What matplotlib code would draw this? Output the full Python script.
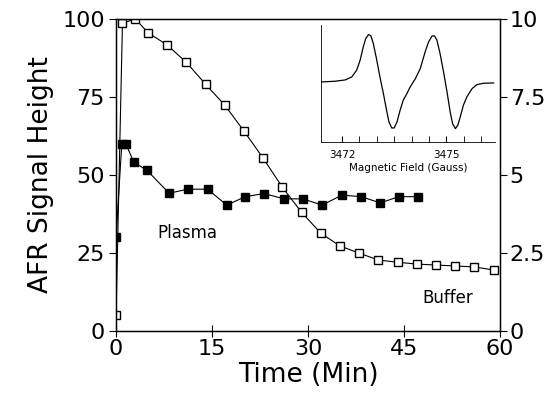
import matplotlib
matplotlib.use("Agg")
import matplotlib.pyplot as plt

# main panel: AFR signal vs time
buffer_t = [0, 1, 3, 5, 8, 11, 14, 17, 20, 23, 26, 29, 32, 35, 38, 41, 44, 47, 50, 53, 56, 59]
buffer_y = [5, 98.5, 100, 95.5, 91.6, 86, 79, 72.3, 64, 55.3, 46, 38, 31.3, 27.2, 24.9,
            22.7, 22, 21.4, 21.1, 20.8, 20.5, 19.5]
plasma_t = [0, 0.9, 1.5, 2.8, 4.8, 8.3, 11.2, 14.3, 17.3, 20.2, 23.1, 26.3, 29.2, 32.2,
            35.3, 38.3, 41.3, 44.2, 47.2]
plasma_y = [30, 60, 60, 54, 51.5, 44.1, 45.4, 45.4, 40.3, 43, 44, 42.3, 42.3, 40.3,
            43.5, 43, 41, 43, 43]

# inset: EPR spectrum (arbitrary units)
field_g = [3471.41, 3471.80, 3472.09, 3472.28, 3472.42, 3472.52, 3472.61, 3472.68, 3472.76,
           3472.83, 3472.90, 3472.99, 3473.09, 3473.19, 3473.28, 3473.35, 3473.43, 3473.50,
           3473.58, 3473.67, 3473.76, 3473.86, 3473.96, 3474.11, 3474.25, 3474.39, 3474.49,
           3474.59, 3474.66, 3474.73, 3474.82, 3474.92, 3475.02, 3475.11, 3475.18, 3475.26,
           3475.33, 3475.40, 3475.49, 3475.59, 3475.74, 3475.88, 3476.07, 3476.36]
epr_sig = [0, 0.7, 2, 5, 11.7, 21.7, 35, 43.3, 47.3,
           46, 38.3, 23.3, 5, -11.7, -28.3, -40, -46, -46,
           -40, -28.3, -18.3, -12, -5, 3.3, 13.3, 30, 40,
           46, 46, 41.7, 28.3, 10, -10, -30, -41.7, -46.7,
           -43.3, -35, -23.3, -15, -6.7, -2.7, -1.3, -1]

left_ticks = [0, 25, 50, 75, 100]
right_ticks = [0, 2.5, 5, 7.5, 10]
right_labels = ["0", "2.5", "5", "7.5", "10"]
x_ticks = [0, 15, 30, 45, 60]

fig = plt.figure(figsize=(5.5, 4.08), dpi=100)
ax = fig.add_axes([0.211, 0.189, 0.698, 0.765])

ax.plot(buffer_t, buffer_y, color="black", lw=0.8, marker="s", ms=6,
        mfc="white", mec="black", mew=1.0)
ax.plot(plasma_t, plasma_y, color="black", lw=0.8, marker="s", ms=6.2,
        mfc="black", mec="black")

ax.set_xlim(0, 60)
ax.set_ylim(0, 100)
ax.set_xticks(x_ticks)
ax.set_yticks(left_ticks)
ax.tick_params(axis="y", direction="out", length=5, labelsize=16, pad=3)
ax.tick_params(axis="x", direction="inout", length=8, labelsize=16, pad=2)
ax.set_xlabel("Time (Min)", fontsize=19, labelpad=2)
ax.set_ylabel("AFR Signal Height", fontsize=19, labelpad=6)
for sp in ax.spines.values():
    sp.set_linewidth(1.0)

ax.text(11.2, 31.5, "Plasma", fontsize=12, ha="center", va="center")
ax.text(51.8, 10.5, "Buffer", fontsize=12, ha="center", va="center")

ax2 = ax.twinx()
ax2.set_ylim(0, 10)
ax2.set_yticks(right_ticks)
ax2.set_yticklabels(right_labels)
ax2.tick_params(axis="y", direction="out", length=5, labelsize=16, pad=2)

# inset spectrum
axi = fig.add_axes([0.584, 0.652, 0.316, 0.287])
axi.plot(field_g, epr_sig, color="black", lw=0.9)
axi.set_xlim(3471.4, 3476.4)
axi.set_ylim(-60, 57)
axi.set_xticks([3472, 3475])
axi.set_xticks([3472.5, 3473, 3473.5, 3474, 3474.5, 3475.5, 3476], minor=True)
axi.set_yticks([])
axi.tick_params(axis="x", which="both", direction="in", length=4, labelsize=7.5, pad=6)
axi.spines["top"].set_visible(False)
axi.spines["right"].set_visible(False)
axi.spines["left"].set_linewidth(0.6)
axi.spines["bottom"].set_linewidth(0.6)
axi.set_xlabel("Magnetic Field (Gauss)", fontsize=7.5, labelpad=2)
axi.patch.set_alpha(0)

fig.savefig("out.png", dpi=100)
